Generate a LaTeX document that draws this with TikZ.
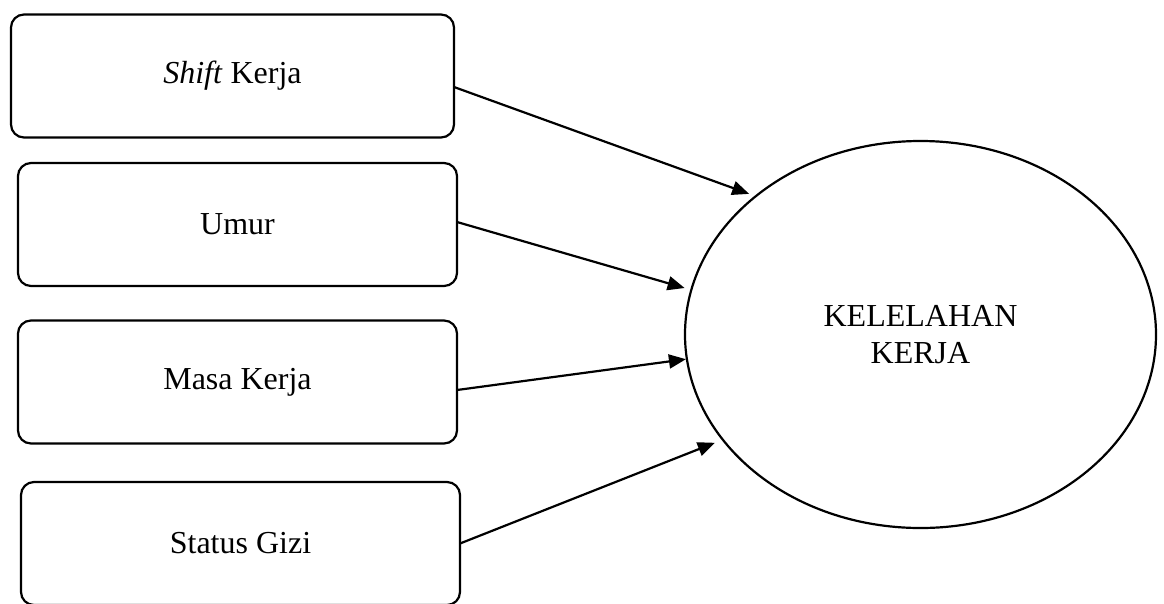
\documentclass[tikz,border=0pt]{standalone}
\usepackage{fontspec}
\setmainfont{Liberation Serif}
\usetikzlibrary{shapes.geometric,arrows.meta}
\begin{document}
\begin{tikzpicture}[x=1pt,y=-1pt,
  box/.style={draw,line width=2.2pt,rounded corners=13pt,inner sep=0pt,outer sep=0pt,
    minimum height=123pt,font=\fontsize{32}{37.7}\selectfont},
  oval/.style={draw,ellipse,line width=2.2pt,inner sep=0pt,outer sep=0pt,
    minimum width=471pt,minimum height=387pt,align=center,font=\fontsize{32}{37.7}\selectfont},
  arr/.style={line width=2.2pt,-{Triangle[length=17pt,width=14pt]}}]
\useasboundingbox (0,0) rectangle (1164,603);
\node[box,minimum width=443pt] (b1) at (232.5,76) {\textit{Shift} Kerja};
\node[box,minimum width=439pt] (b2) at (237.5,224.5) {Umur};
\node[box,minimum width=439pt] (b3) at (237.5,382) {Masa Kerja};
\node[box,minimum width=439pt] (b4) at (240.5,543.5) {Status Gizi};
\node[oval] (e) at (920.5,334.5) {KELELAHAN\\KERJA};
\draw[arr,shorten >=7pt] ([yshift=-11pt]b1.east) -- (e.140.8);
\draw[arr,shorten >=7pt] ([yshift=2.5pt]b2.east) -- (e.169.4);
\draw[arr,shorten >=1pt] ([yshift=-8pt]b3.east) -- (e.186.2);
\draw[arr,shorten >=8.6pt] (b4.east) -- (e.208.3);
\end{tikzpicture}
\end{document}
